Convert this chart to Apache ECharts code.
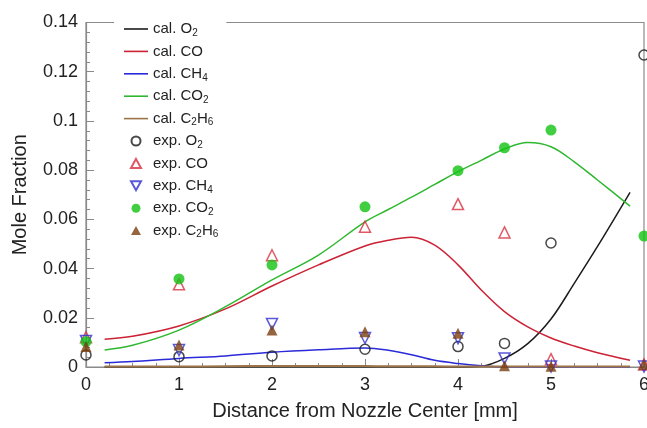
<!DOCTYPE html>
<html>
<head>
<meta charset="utf-8">
<script src="https://cdn.jsdelivr.net/npm/echarts@6/dist/echarts.min.js"></script>
<style>
html,body{margin:0;padding:0;background:#fff;overflow:hidden;}
#c{width:647px;height:428px;}
</style>
</head>
<body>
<div id="c"></div>
<script>
// ---- data ----
const calX      = [0.2, 0.5, 1.0, 1.5, 2.0, 2.5, 3.0, 3.25, 3.5, 3.75, 4.0, 4.25, 4.5, 4.75, 5.0, 5.25, 5.5, 5.85];
const calO2     = [0, 0, 0, 0, 0, 0, 0, 0, 0, 0, 0, 0.0003, 0.0035, 0.0095, 0.0195, 0.034, 0.049, 0.071];
const calCO     = [0.0113, 0.0125, 0.0167, 0.0236, 0.0329, 0.0415, 0.0492, 0.0515, 0.0527, 0.0495, 0.0415, 0.0313, 0.0225, 0.0163, 0.0118, 0.0085, 0.0058, 0.0027];
const calCH4    = [0.0017, 0.0022, 0.0035, 0.0045, 0.006, 0.007, 0.0077, 0.0068, 0.005, 0.0027, 0.0014, 0.0005, 0, 0, 0, 0, 0, 0];
const calCO2    = [0.0069, 0.0088, 0.015, 0.0245, 0.0354, 0.0455, 0.059, 0.064, 0.069, 0.0742, 0.0794, 0.084, 0.0886, 0.0912, 0.0895, 0.0834, 0.076, 0.0654];
const calC2H6   = [0.0002, 0.0002, 0.0002, 0.0003, 0.0004, 0.0004, 0.0004, 0.0003, 0.0003, 0.0003, 0.0002, 0.0002, 0.0002, 0.0002, 0.0002, 0.0002, 0.0002, 0.0002];

const expX      = [0, 1, 2, 3, 4, 4.5, 5, 6];
const expO2     = [0.0049, 0.0042, 0.0045, 0.0072, 0.0083, 0.0096, 0.0504, 0.1268];
const expCO     = [0.0121, 0.0336, 0.0454, 0.057, 0.0662, 0.0547, 0.0032, 0.001];
const expCH4    = [0.0106, 0.0069, 0.0175, 0.0118, 0.0117, 0.0035, 0.0002, 0.0002];
const expCO2    = [0.0103, 0.0358, 0.0415, 0.0651, 0.0798, 0.0891, 0.0963, 0.0532];
const expC2H6   = [0.0083, 0.0089, 0.015, 0.0143, 0.0137, 0.0005, 0.0003, 0.001];

const yTicks = [0, 0.02, 0.04, 0.06, 0.08, 0.1, 0.12, 0.14];

// ---- build ----
const zip = (xs, ys) => xs.map((x, i) => [x, ys[i]]);
const FONT = 'Liberation Sans, Arial, sans-serif';

function calSeries(name, ys, color, w) {
  return { name, type: 'line', data: zip(calX, ys), symbol: 'none', smooth: 0.35,
    lineStyle: { color, width: w || 1.5 }, itemStyle: { color }, z: 3 };
}
function expSeries(name, ys, symbol, color, filled, rotate, size) {
  return { name, type: 'scatter', data: zip(expX, ys), symbol, symbolSize: size || 10,
    symbolRotate: rotate || 0, clip: false, z: 5,
    itemStyle: filled ? { color } : { color: 'rgba(255,255,255,0)', borderColor: color, borderWidth: 1.5 } };
}

const LINE_ICON = 'path://M0,0h24v1.6h-24z';
const UP_ICON = 'path://M5,0L10,9L0,9Z';
const DOWN_ICON = 'path://M0,0L10,0L5,9Z';

const legendItems = [
  { name: 'cal. O2',   label: '{n|cal. O}{s|2}',          icon: LINE_ICON },
  { name: 'cal. CO',   label: '{n|cal. CO}',              icon: LINE_ICON },
  { name: 'cal. CH4',  label: '{n|cal. CH}{s|4}',         icon: LINE_ICON },
  { name: 'cal. CO2',  label: '{n|cal. CO}{s|2}',         icon: LINE_ICON },
  { name: 'cal. C2H6', label: '{n|cal. C}{s|2}{n|H}{s|6}', icon: LINE_ICON },
  { name: 'exp. O2',   label: '{n|exp. O}{s|2}',          icon: 'circle' },
  { name: 'exp. CO',   label: '{n|exp. CO}',              icon: UP_ICON },
  { name: 'exp. CH4',  label: '{n|exp. CH}{s|4}',         icon: DOWN_ICON },
  { name: 'exp. CO2',  label: '{n|exp. CO}{s|2}',         icon: 'circle' },
  { name: 'exp. C2H6', label: '{n|exp. C}{s|2}{n|H}{s|6}', icon: UP_ICON }
];
const labelOf = {};
legendItems.forEach(d => { labelOf[d.name] = d.label; });

const chart = echarts.init(document.getElementById('c'), null, { renderer: 'canvas' });
chart.setOption({
  animation: false,
  backgroundColor: '#fff',
  grid: { left: 86, right: 3, top: 22.5, bottom: 61, show: true, borderColor: '#8a8a8a', borderWidth: 1.2,
    backgroundColor: 'transparent', containLabel: false, outerBoundsMode: 'none' },
  legend: {
    orient: 'vertical', left: 114, top: 15,
    padding: [5, 8, 5, 10],
    backgroundColor: '#fff',
    itemWidth: 24, itemHeight: 9, itemGap: 4.4,
    symbolRotate: 0,
    data: legendItems.map(d => ({ name: d.name, icon: d.icon })),
    formatter: n => labelOf[n],
    textStyle: { fontFamily: FONT, fontSize: 15, color: '#222', lineHeight: 18,
      rich: { n: { fontFamily: FONT, fontSize: 15, color: '#222', lineHeight: 18 },
              s: { fontFamily: FONT, fontSize: 10, color: '#222', lineHeight: 6, verticalAlign: 'bottom' } } }
  },
  xAxis: {
    type: 'value', min: 0, max: 6, interval: 1,
    name: 'Distance from Nozzle Center [mm]', nameLocation: 'middle', nameGap: 34,
    nameTextStyle: { fontFamily: FONT, fontSize: 20, color: '#222' },
    axisLine: { lineStyle: { color: '#8a8a8a', width: 1.2 } },
    axisTick: { inside: true, length: 8, lineStyle: { color: '#8a8a8a' } },
    minorTick: { show: true, splitNumber: 4, length: 4, lineStyle: { color: '#8a8a8a' } },
    axisLabel: { fontFamily: FONT, fontSize: 18, color: '#222', margin: 9 },
    splitLine: { show: false }
  },
  yAxis: {
    type: 'value', min: yTicks[0], max: yTicks[yTicks.length - 1], interval: 0.02,
    name: 'Mole Fraction', nameLocation: 'middle', nameGap: 56,
    nameTextStyle: { fontFamily: FONT, fontSize: 20, color: '#222' },
    axisLine: { show: true, lineStyle: { color: '#8a8a8a', width: 1.2 } },
    axisTick: { show: true, inside: true, length: 8, lineStyle: { color: '#8a8a8a' } },
    minorTick: { show: true, splitNumber: 5, length: 4, lineStyle: { color: '#8a8a8a' } },
    axisLabel: { fontFamily: FONT, fontSize: 18, color: '#222', margin: 8,
      formatter: v => String(parseFloat(v.toFixed(2))) },
    splitLine: { show: false }
  },
  series: [
    calSeries('cal. O2', calO2, '#1c1c1c'),
    calSeries('cal. CO', calCO, '#cc2235'),
    calSeries('cal. CH4', calCH4, '#2a2ad8'),
    calSeries('cal. CO2', calCO2, '#2fb82f'),
    calSeries('cal. C2H6', calC2H6, '#9c7448', 2),
    expSeries('exp. O2', expO2, 'circle', '#1a1a1a', false, 0, 10),
    expSeries('exp. CO', expCO, 'triangle', '#d83040', false, 0, 11),
    expSeries('exp. CH4', expCH4, 'triangle', '#2f2fd0', false, 180, 11),
    expSeries('exp. CO2', expCO2, 'circle', '#12c312', true, 0, 11),
    expSeries('exp. C2H6', expC2H6, 'triangle', '#7a3e10', true, 0, 11)
  ]
});
</script>
</body>
</html>
